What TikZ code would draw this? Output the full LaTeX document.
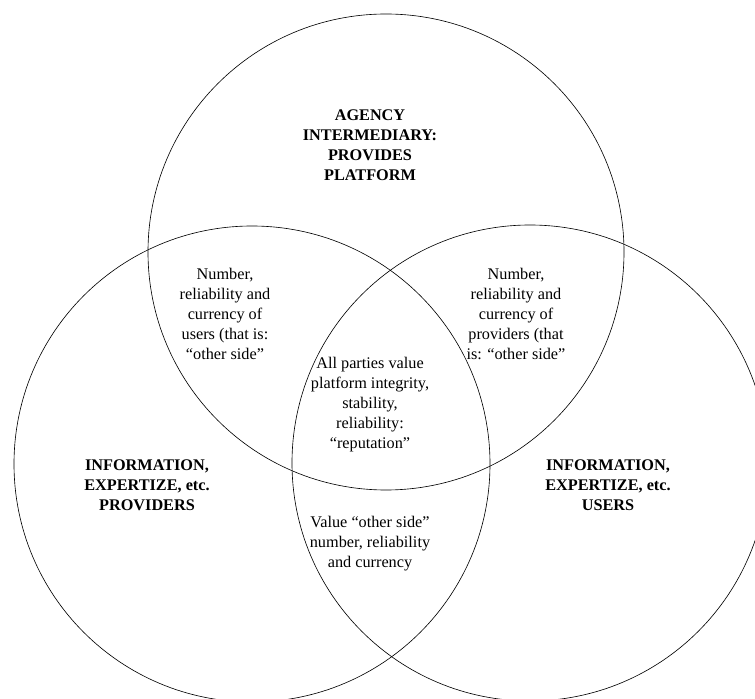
\documentclass[tikz,border=0pt]{standalone}
\usepackage{fontspec}
\setmainfont{Liberation Serif}
\usepackage{tikz}
\usetikzlibrary{positioning}

\begin{document}
\begin{tikzpicture}[x=0.8pt, y=-0.8pt, align=center, font=\fontsize{13}{16}\selectfont]
\useasboundingbox (0,0) rectangle (755,699);
\clip (0,0) rectangle (755,699);
%circles
\draw[line width=0.5pt] (386,252) circle (238);
\draw[line width=0.5pt] (252,464) circle (238);
\draw[line width=0.5pt] (530,463) circle (238);

%nodes
\node (agency) at (370,145) {\bfseries AGENCY\\ \bfseries INTERMEDIARY:\\ \bfseries PROVIDES\\ \bfseries PLATFORM};
\node (users) at (225,314) {Number,\\ reliability and\\ currency of\\ users (that is:\\ “other side”};
\node (provs) at (516,314) {Number,\\ reliability and\\ currency of\\ providers (that\\ is: “other side”};
\node (all) at (370,405) {All parties value\\ platform integrity,\\ stability,\\ reliability:\\ “reputation”};
\node (left) at (147,485) {\bfseries INFORMATION,\\ \bfseries EXPERTIZE, etc.\\ \bfseries PROVIDERS};
\node (right) at (608,485) {\bfseries INFORMATION,\\ \bfseries EXPERTIZE, etc.\\ \bfseries USERS};
\node (value) at (370,544) {Value “other side”\\ number, reliability\\ and currency};
\end{tikzpicture}
\end{document}
